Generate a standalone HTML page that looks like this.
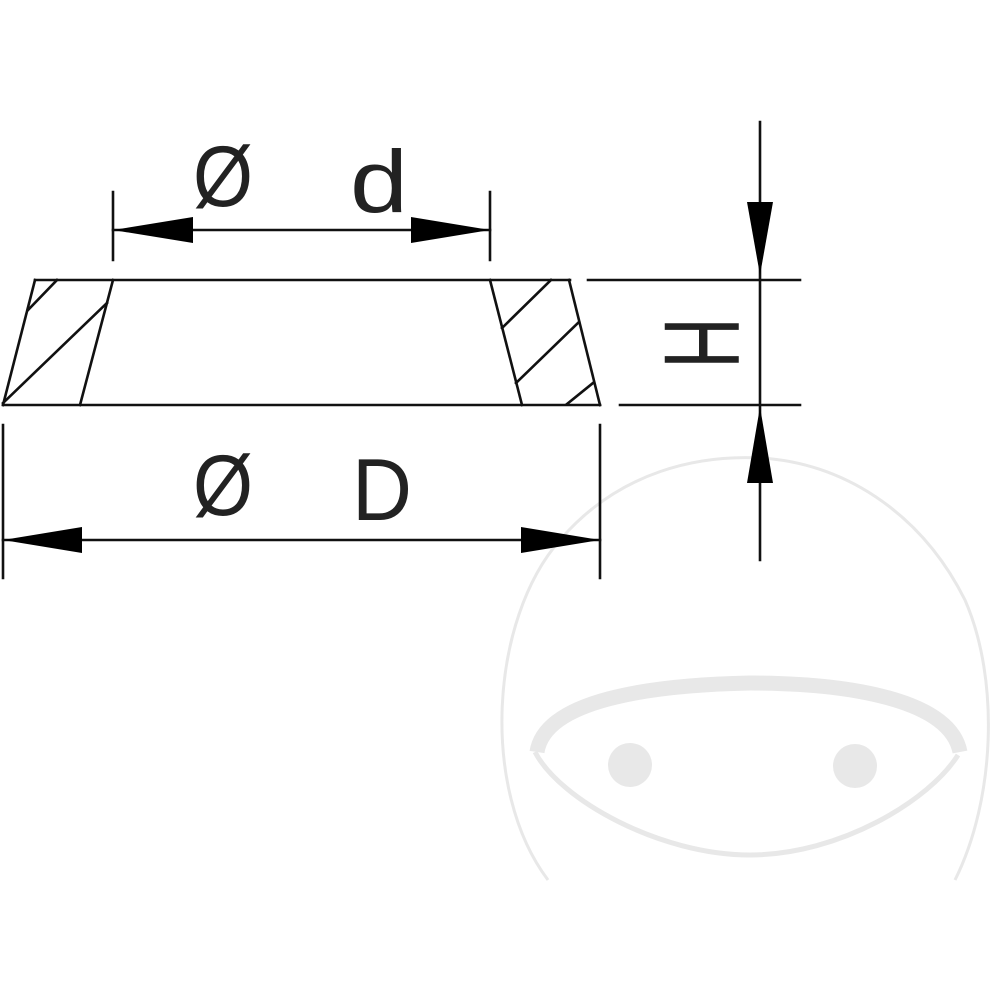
<!DOCTYPE html>
<html><head><meta charset="utf-8"><style>html,body{margin:0;padding:0;background:#fff}svg{display:block}</style></head>
<body>
<svg width="1000" height="1000" viewBox="0 0 1000 1000" xmlns="http://www.w3.org/2000/svg">
<g fill="none" stroke="#e8e8e8">
<path d="M548,880 C480,790 490,620 560,540 C620,470 700,455 760,458 C840,462 920,510 965,600 C1000,680 995,800 955,880" stroke-width="3"/>
<path d="M537,752 C545,700 650,685 750,683 C850,683 950,700 960,752" stroke-width="15"/>
<path d="M535,752 C560,800 660,855 750,855 C840,855 930,800 958,755" stroke-width="5"/>
</g>
<circle cx="630" cy="765" r="22" fill="#e8e8e8"/>
<circle cx="855" cy="766" r="22" fill="#e8e8e8"/>

<g stroke="#111" stroke-width="2.6" fill="none" stroke-linecap="square">
<line x1="35" y1="280" x2="570" y2="280"/>
<line x1="3" y1="405" x2="600" y2="405"/>
<line x1="35" y1="280" x2="3" y2="405"/>
<line x1="113" y1="280" x2="80" y2="405"/>
<line x1="490" y1="280" x2="522" y2="405"/>
<line x1="569" y1="280" x2="600" y2="405"/>
<line x1="28" y1="310" x2="57" y2="280"/>
<line x1="3" y1="403" x2="107" y2="303"/>
<line x1="502" y1="328" x2="551" y2="280"/>
<line x1="516" y1="383" x2="579" y2="322"/>
<line x1="567" y1="404" x2="593" y2="383"/>
<line x1="113" y1="192" x2="113" y2="260"/>
<line x1="490" y1="192" x2="490" y2="260"/>
<line x1="113" y1="230" x2="490" y2="230"/>
<line x1="3" y1="425" x2="3" y2="578"/>
<line x1="600" y1="425" x2="600" y2="578"/>
<line x1="3" y1="540" x2="600" y2="540"/>
<line x1="760" y1="122" x2="760" y2="560"/>
<line x1="588" y1="280" x2="800" y2="280"/>
<line x1="620" y1="405" x2="800" y2="405"/>
</g>
<g fill="#000">
<polygon points="113,230 193,217 193,243"/>
<polygon points="490,230 411,217 411,243"/>
<polygon points="3,540 82,527 82,553"/>
<polygon points="600,540 521,527 521,553"/>
<polygon points="760,275 747,202 773,202"/>
<polygon points="760,407 747,483 773,483"/>
</g>
<g font-family="'Liberation Sans', sans-serif" fill="#222">
<text x="193" y="206" font-size="86" textLength="60" lengthAdjust="spacingAndGlyphs">Ø</text>
<text x="350" y="212" font-size="88" textLength="58" lengthAdjust="spacingAndGlyphs">d</text>
<text x="193" y="515" font-size="86" textLength="60" lengthAdjust="spacingAndGlyphs">Ø</text>
<text x="352" y="520" font-size="88" textLength="60" lengthAdjust="spacingAndGlyphs">D</text>
<text transform="translate(702,343) rotate(90)" x="0" y="0" text-anchor="middle" dominant-baseline="central" font-size="108" textLength="51" lengthAdjust="spacingAndGlyphs">H</text>
</g>
</svg>
</body></html>
